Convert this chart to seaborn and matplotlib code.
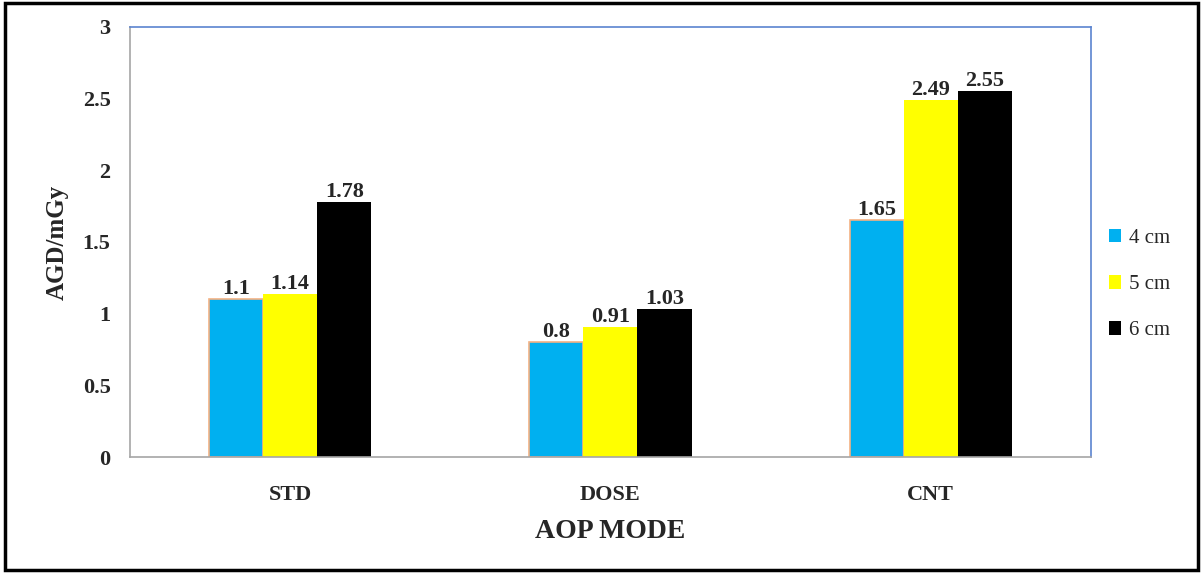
import pandas as pd
import matplotlib
matplotlib.use("Agg")
import matplotlib.pyplot as plt
import seaborn as sns
from matplotlib.patches import Rectangle

# valori
modes = ["STD", "DOSE", "CNT"]
thickness = ["4cm", "5cm", "6cm"]
legend_labels = ["4 cm", "5 cm", "6 cm"]
agd_4cm = [1.1, 0.8, 1.65]
agd_5cm = [1.14, 0.91, 2.49]
agd_6cm = [1.78, 1.03, 2.55]
yticks = [0, 0.5, 1, 1.5, 2, 2.5, 3]

df = pd.DataFrame({
    "mode": modes * 3,
    "thickness": [thickness[0]] * 3 + [thickness[1]] * 3 + [thickness[2]] * 3,
    "agd": agd_4cm + agd_5cm + agd_6cm,
})

sns.set_style("white")
plt.rcParams["font.family"] = ["Liberation Serif", "DejaVu Serif"]

colori = ["#00B0F0", "#FFFF00", "#000000"]

fig = plt.figure(figsize=(12.04, 5.73), dpi=100)
ax = fig.add_axes([0.108, 0.2024, 0.798, 0.7506])

sns.barplot(data=df, x="mode", y="agd", hue="thickness", order=modes,
            hue_order=thickness, palette=colori, width=0.507, gap=0,
            saturation=1, ax=ax, linewidth=0)

# bordo arancione solo sulla serie 4cm
for p in ax.containers[0]:
    p.set_edgecolor("#F4B183")
    p.set_linewidth(1.2)

for cont in ax.containers:
    ax.bar_label(cont, labels=[f"{v:g}" for v in cont.datavalues],
                 fontsize=16, fontweight="bold", padding=0)

ax.set_ylim(0, 3)
ax.set_yticks(yticks)
ax.set_yticklabels([f"{v:g}" for v in yticks])
ax.tick_params(axis="y", length=5, color="#A6A6A6", labelsize=16, pad=9)
ax.tick_params(axis="x", length=0, labelsize=16, pad=20)
for lab in ax.get_xticklabels() + ax.get_yticklabels():
    lab.set_fontweight("bold")

ax.set_xlabel("AOP MODE", fontsize=20, fontweight="bold", labelpad=10)
ax.set_ylabel("AGD/mGy", fontsize=18, fontweight="bold", labelpad=10)

for side in ["left", "bottom"]:
    ax.spines[side].set_color("#A6A6A6")
    ax.spines[side].set_linewidth(1.2)
for side in ["top", "right"]:
    ax.spines[side].set_color("#5B84D0")
    ax.spines[side].set_linewidth(1.2)
    ax.spines[side].set_visible(True)

handles, labels = ax.get_legend_handles_labels()
ax.legend_.remove()
leg = fig.legend(handles, legend_labels, loc="center left",
                 bbox_to_anchor=(0.921, 0.503), frameon=False, fontsize=15,
                 handlelength=0.6, handleheight=0.6, handletextpad=0.35,
                 labelspacing=1.3, borderpad=0, borderaxespad=0)

# cornice esterna nera
fig.add_artist(Rectangle((0.004, 0.005), 0.991, 0.99, transform=fig.transFigure,
                         fill=False, edgecolor="black", linewidth=2.5))

fig.savefig("out.png", dpi=100)
